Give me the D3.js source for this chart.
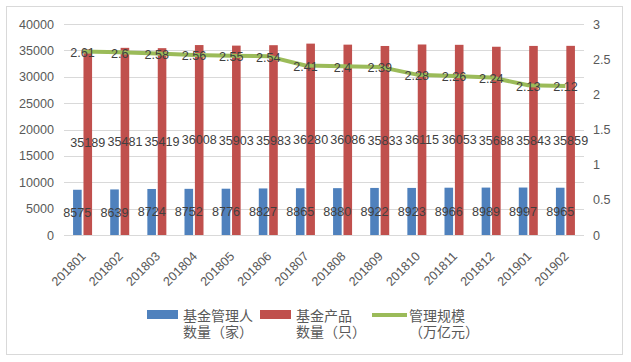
<!DOCTYPE html>
<html>
<head>
<meta charset="utf-8">
<script src="https://cdn.jsdelivr.net/npm/d3@7"></script>
<style>
  body { margin: 0; background: #fff; }
  text { font-family: "Liberation Sans", Arial, sans-serif; }
</style>
</head>
<body>
<div id="chart"></div>
<script>
var months = ["201801", "201802", "201803", "201804", "201805", "201806", "201807",
              "201808", "201809", "201810", "201811", "201812", "201901", "201902"]
var managers = [8575, 8639, 8724, 8752, 8776, 8827, 8865, 8880, 8922, 8923, 8966, 8989, 8997, 8965]
var products = [35189, 35481, 35419, 36008, 35903, 35983, 36280, 36086, 35833, 36115, 36053, 35688, 35843, 35859]
var scale = [2.61, 2.6, 2.58, 2.56, 2.55, 2.54, 2.41, 2.4, 2.39, 2.28, 2.26, 2.24, 2.13, 2.12]
var leftTicks = [0, 5000, 10000, 15000, 20000, 25000, 30000, 35000, 40000]
var rightTicks = [0, 0.5, 1, 1.5, 2, 2.5, 3]
var legendNames = [["基金管理人", "数量（家）"], ["基金产品", "数量（只）"], ["管理规模", "（万亿元）"]]

var width = 631, height = 362
var blue = "#4f81bd", red = "#c0504d", green = "#9bbb59"
var plot = {left: 64, right: 584, top: 24, bottom: 235}

var svg = d3.select("#chart").append("svg")
    .attr("width", width)
    .attr("height", height)

// outer frame
svg.append("rect")
    .attr("x", 6.5).attr("y", 6.5)
    .attr("width", 616).attr("height", 348)
    .attr("fill", "#fff")
    .attr("stroke", "#d9d9d9")

var x = d3.scaleBand()
    .domain(months)
    .range([plot.left, plot.right])

var y = d3.scaleLinear()
    .domain([0, 40000])
    .range([plot.bottom, plot.top])

var y2 = d3.scaleLinear()
    .domain([0, 3])
    .range([plot.bottom, plot.top])

var plain = function (d) { return String(d); }

// gridlines
svg.append("g")
    .selectAll("line")
    .data(leftTicks)
    .enter()
    .append("line")
    .attr("x1", plot.left).attr("x2", plot.right)
    .attr("y1", function (d) { return Math.round(y(d)) + 0.5; })
    .attr("y2", function (d) { return Math.round(y(d)) + 0.5; })
    .attr("stroke", "#d9d9d9")

// left axis
var yAxis = d3.axisLeft(y).tickValues(leftTicks).tickFormat(plain).tickSize(0).tickPadding(10)
var gy = svg.append("g")
    .attr("transform", "translate(" + plot.left + ",0)")
    .call(yAxis)
gy.select(".domain").remove()
gy.selectAll("text").attr("fill", "#595959").style("font-size", "12.6px")

// right axis
var y2Axis = d3.axisRight(y2).tickValues(rightTicks).tickFormat(plain).tickSize(0).tickPadding(9)
var gy2 = svg.append("g")
    .attr("transform", "translate(" + plot.right + ",0)")
    .call(y2Axis)
gy2.select(".domain").remove()
gy2.selectAll("text").attr("fill", "#595959").style("font-size", "12.6px")

// x axis labels
svg.append("g")
    .selectAll("text")
    .data(months)
    .enter()
    .append("text")
    .attr("transform", function (d) {
        return "translate(" + (x(d) + x.bandwidth() / 2 + 4) + ",257) rotate(-45)"
    })
    .attr("text-anchor", "end")
    .attr("fill", "#595959")
    .style("font-size", "12.6px")
    .text(function (d) { return d; })

var barW = 8.6, gap = 1.8

// bars
svg.append("g")
    .selectAll("rect")
    .data(managers)
    .enter()
    .append("rect")
    .attr("x", function (d, i) { return x(months[i]) + x.bandwidth() / 2 - gap / 2 - barW; })
    .attr("y", function (d) { return y(d); })
    .attr("width", barW)
    .attr("height", function (d) { return plot.bottom - y(d); })
    .attr("fill", blue)

svg.append("g")
    .selectAll("rect")
    .data(products)
    .enter()
    .append("rect")
    .attr("x", function (d, i) { return x(months[i]) + x.bandwidth() / 2 + gap / 2; })
    .attr("y", function (d) { return y(d); })
    .attr("width", barW)
    .attr("height", function (d) { return plot.bottom - y(d); })
    .attr("fill", red)

// line
var line = d3.line()
    .x(function (d, i) { return x(months[i]) + x.bandwidth() / 2; })
    .y(function (d) { return y2(d); })

svg.append("path")
    .datum(scale)
    .attr("d", line)
    .attr("fill", "none")
    .attr("stroke", green)
    .attr("stroke-width", 4)
    .attr("stroke-linejoin", "round")

// data labels
var labelStyle = function (sel) {
    sel.attr("text-anchor", "middle")
        .attr("dy", "0.35em")
        .attr("fill", "#404040")
        .style("font-size", "12.6px")
}

svg.append("g")
    .selectAll("text")
    .data(managers)
    .enter()
    .append("text")
    .attr("x", function (d, i) { return x(months[i]) + x.bandwidth() / 2 - gap / 2 - barW / 2; })
    .attr("y", function (d) { return (y(d) + plot.bottom) / 2; })
    .call(labelStyle)
    .text(function (d) { return d; })

svg.append("g")
    .selectAll("text")
    .data(products)
    .enter()
    .append("text")
    .attr("x", function (d, i) { return x(months[i]) + x.bandwidth() / 2 + gap / 2 + barW / 2; })
    .attr("y", function (d) { return (y(d) + plot.bottom) / 2; })
    .call(labelStyle)
    .text(function (d) { return d; })

svg.append("g")
    .selectAll("text")
    .data(scale)
    .enter()
    .append("text")
    .attr("x", function (d, i) { return x(months[i]) + x.bandwidth() / 2; })
    .attr("y", function (d) { return y2(d) + 1; })
    .call(labelStyle)
    .text(function (d) { return d; })

// legend
var legendX = [147, 260, 372]
var legendColors = [blue, red, green]
var legend = svg.append("g")

for (let i = 0; i < legendNames.length; i++) {
    if (i < 2) {
        legend.append("rect")
            .attr("x", legendX[i]).attr("y", 310)
            .attr("width", 31).attr("height", 9)
            .attr("fill", legendColors[i])
    } else {
        legend.append("line")
            .attr("x1", legendX[i]).attr("x2", legendX[i] + 35)
            .attr("y1", 315).attr("y2", 315)
            .attr("stroke", legendColors[i])
            .attr("stroke-width", 4)
    }
    var tx = i < 2 ? legendX[i] + 36 : legendX[i] + 37
    legendNames[i].forEach(function (t, j) {
        legend.append("text")
            .attr("x", tx)
            .attr("y", 316 + j * 16.5)
            .attr("dy", "0.35em")
            .attr("fill", "#595959")
            .style("font-family", "'Liberation Sans', 'Noto Sans CJK SC', sans-serif")
            .style("font-size", "14px")
            .text(t)
    })
}
</script>
</body>
</html>
